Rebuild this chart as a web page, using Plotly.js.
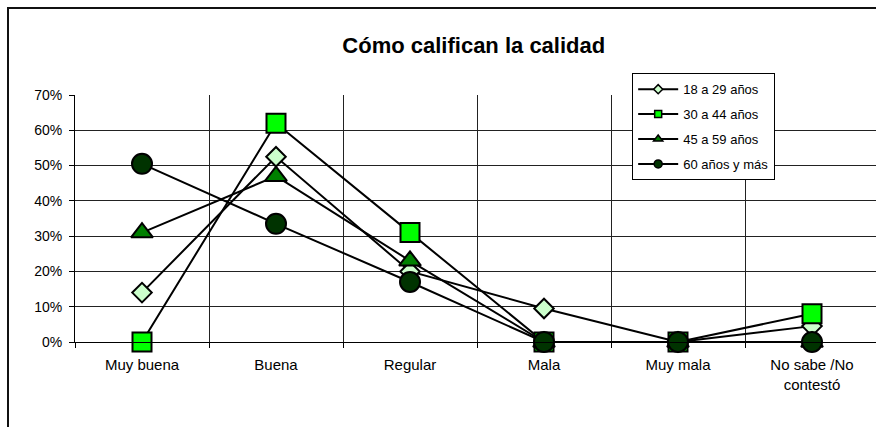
<!DOCTYPE html>
<html>
<head>
<meta charset="utf-8">
<script src="https://cdn.plot.ly/plotly-3.0.1.min.js"></script>
<style>
  html, body { margin:0; padding:0; background:#fff; overflow:hidden; }
  #frame { position:absolute; left:7px; top:7px; width:900px; height:500px; border:2px solid #111; box-sizing:border-box; }
  #chart { position:absolute; left:0; top:0; width:879px; height:427px; }
</style>
</head>
<body>
<div id="frame"></div>
<div id="chart"></div>
<script>
// categories and values
const categories = ['Muy buena','Buena','Regular','Mala','Muy mala','No sabe /No<br>contestó'];
const seriesNames = ['18 a 29 años','30 a 44 años','45 a 59 años','60 años y más'];
const age18_29 = [0.14, 0.525, 0.20, 0.095, 0, 0.045];
const age30_44 = [0.00, 0.62, 0.31, 0, 0, 0.08];
const age45_59 = [0.31, 0.47, 0.23, 0, 0, 0];
const age60plus = [0.505, 0.335, 0.17, 0, 0, 0];
const yTicks = [0, 0.1, 0.2, 0.3, 0.4, 0.5, 0.6, 0.7];

(function(){
  const FONT = 'Liberation Sans, Arial, sans-serif';
  const styles = [
    {symbol:'diamond', size:15, fill:'#ccffcc', legSize:7},
    {symbol:'square', size:19, fill:'#00ff00', legSize:7},
    {symbol:'triangle-up', size:19, fill:'#008000', legSize:8},
    {symbol:'circle', size:20, fill:'#003300', legSize:8}
  ];
  const series = [age18_29, age30_44, age45_59, age60plus];

  const traces = [];
  series.forEach((y, i) => {
    const s = styles[i];
    traces.push({
      type:'scatter', mode:'lines+markers', name:seriesNames[i], x:categories, y:y,
      showlegend:false, cliponaxis:false,
      line:{color:'#000', width:2},
      marker:{symbol:s.symbol, size:s.size, color:s.fill, line:{color:'#000', width:2}}
    });
  });
  // legend entries with the small markers the original legend uses
  series.forEach((y, i) => {
    const s = styles[i];
    traces.push({
      type:'scatter', mode:'lines+markers', name:seriesNames[i], x:[categories[0]], y:[null],
      legendgroup:'g'+i, showlegend:true,
      line:{color:'#000', width:2},
      marker:{symbol:s.symbol, size:s.legSize, color:s.fill, line:{color:'#000', width:1.5}}
    });
  });

  const layout = {
    width:879, height:427,
    paper_bgcolor:'rgba(0,0,0,0)', plot_bgcolor:'rgba(0,0,0,0)',
    margin:{l:75, r:0, t:95, b:85},
    font:{family:FONT, color:'#000', size:14},
    title:{text:'<b>Cómo califican la calidad</b>', font:{family:FONT, size:22, color:'#000'},
      x:0.539, xanchor:'center', y:0.895, yanchor:'middle'},
    showlegend:true,
    legend:{x:0.693, xanchor:'left', y:1.088, yanchor:'top', bgcolor:'#fff',
      bordercolor:'#000', borderwidth:1, font:{family:FONT, size:13, color:'#000'},
      tracegroupgap:5, itemwidth:40},
    xaxis:{type:'category', range:[-0.5, 5.5], tickson:'boundaries', ticks:'outside', ticklen:5,
      tickcolor:'#000', showgrid:true, gridcolor:'#222', gridwidth:1,
      showline:true, linecolor:'#000', linewidth:1, tickfont:{family:FONT, size:15},
      ticklabelstandoff:9, fixedrange:true},
    yaxis:{range:[0, 0.7], tickvals:yTicks, tickformat:'.0%', ticks:'outside', ticklen:5,
      tickcolor:'#000', showgrid:true, gridcolor:'#222', gridwidth:1, zeroline:false,
      showline:true, linecolor:'#000', linewidth:1, tickfont:{family:FONT, size:14},
      ticklabelstandoff:4, fixedrange:true}
  };

  Plotly.newPlot('chart', traces, layout, {displayModeBar:false, staticPlot:true});
})();
</script>
</body>
</html>
